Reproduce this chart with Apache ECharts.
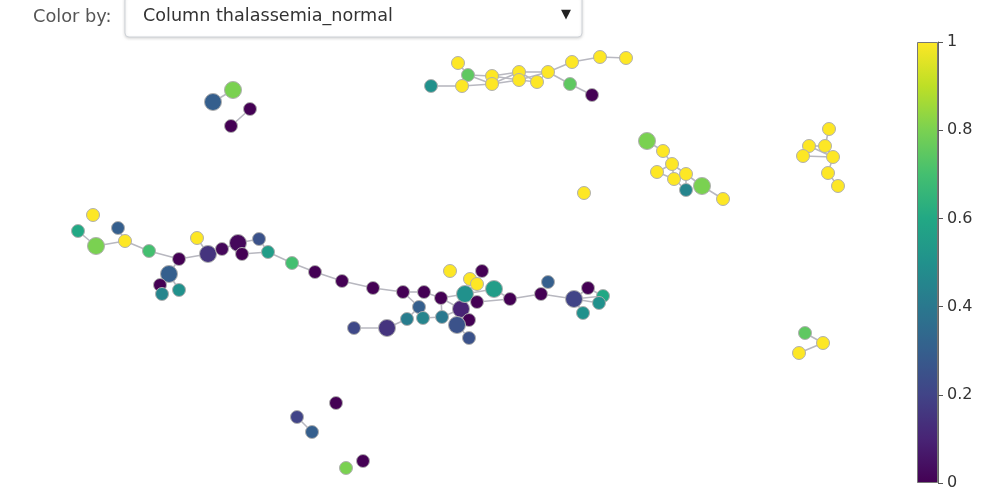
<!DOCTYPE html>
<html>
<head>
<meta charset="utf-8">
<script src="https://cdn.jsdelivr.net/npm/echarts@6/dist/echarts.min.js"></script>
<style>
html,body{margin:0;padding:0;background:#fff;}
#chart{width:1005px;height:504px;}
</style>
</head>
<body>
<div id="chart"></div>
<script>
// Layout coordinates of the network nodes
const nodeX = [458,468,431,462,492,492,519,519,537,548,572,600,626,570,592,
  213,233,250,231,
  647,663,672,657,674,686,702,686,723,584,
  829,825,809,803,833,828,838,
  93,78,96,118,125,149,179,197,208,222,238,242,259,268,292,169,160,179,162,
  315,342,373,403,424,441,419,407,423,442,387,354,461,465,469,457,469,450,470,477,482,494,477,510,541,548,574,588,603,599,583,
  336,297,312,346,363,
  805,823,799];
const nodeY = [63,75,86,86,76,84,72,80,82,72,62,57,58,84,95,
  102,90,109,126,
  141,151,164,172,179,174,186,190,199,193,
  129,146,146,156,157,173,186,
  215,231,246,228,241,251,259,238,254,249,243,254,239,252,263,274,285,290,294,
  272,281,288,292,292,298,307,319,318,317,328,328,309,294,320,325,338,271,279,284,271,289,302,299,294,282,299,288,296,303,313,
  403,417,432,468,461,
  333,343,353];
// thalassemia_normal value for each node
const nodeValue = [1,0.75,0.5,1,1,1,1,1,1,1,1,1,1,0.75,0,
  0.3,0.8,0,0,
  0.8,1,1,1,1,1,0.8,0.45,1,1,
  1,1,1,1,1,1,1,
  1,0.6,0.8,0.3,1,0.7,0,1,0.15,0.02,0.02,0,0.25,0.55,0.7,0.3,0,0.5,0.45,
  0,0,0,0,0,0,0.3,0.42,0.45,0.4,0.15,0.22,0.1,0.5,0,0.25,0.25,1,1,1,0,0.55,0,0,0,0.3,0.2,0,0.6,0.5,0.5,
  0,0.2,0.3,0.8,0,
  0.75,1,1];
// relative node weight (1 = normal, 2 = large)
const nodeWeight = [1,1,1,1,1,1,1,1,1,1,1,1,1,1,1,
  2,2,1,1,
  2,1,1,1,1,1,2,1,1,1,
  1,1,1,1,1,1,1,
  1,1,2,1,1,1,1,1,2,1,2,1,1,1,1,2,1,1,1,
  1,1,1,1,1,1,1,1,1,1,2,1,2,2,1,2,1,1,1,1,1,2,1,1,1,1,2,1,1,1,1,
  1,1,1,1,1,
  1,1,1];
const linkSource = [2,3,0,1,1,3,4,5,4,5,6,7,6,7,8,9,10,11,9,13,
  15,17,
  19,20,21,21,21,22,23,24,23,25,24,
  29,30,31,31,30,32,33,34,
  37,38,39,40,41,42,43,44,45,46,46,47,48,49,42,51,51,52,
  50,55,56,57,58,59,58,61,61,62,65,63,60,60,64,67,67,67,70,69,68,73,68,68,77,76,78,79,81,81,81,83,82,81,60,
  87,
  91,92];
const linkTarget = [3,1,1,4,5,5,6,7,7,6,8,8,9,9,9,10,11,12,13,14,
  16,18,
  20,21,22,24,23,23,24,25,26,27,26,
  30,31,32,33,33,33,34,35,
  38,40,40,41,42,44,44,45,46,47,48,49,49,50,51,52,53,54,
  55,56,57,58,59,60,61,62,63,65,66,64,64,67,67,68,69,70,71,70,74,74,76,77,78,78,79,81,82,83,84,84,83,85,68,
  88,
  92,93];
// colour bar ticks
const colorbarTicks = [0, 0.2, 0.4, 0.6, 0.8, 1];

const viridis = ['#440154','#482475','#414487','#355f8d','#2a788e','#21918c','#22a884','#44bf70','#7ad151','#bddf26','#fde725'];
function hexToRgb(h){return [parseInt(h.slice(1,3),16),parseInt(h.slice(3,5),16),parseInt(h.slice(5,7),16)];}
function viridisColor(v){
  v = Math.max(0, Math.min(1, v));
  const p = v * (viridis.length - 1);
  const i = Math.min(Math.floor(p), viridis.length - 2);
  const t = p - i;
  const a = hexToRgb(viridis[i]), b = hexToRgb(viridis[i+1]);
  const c = a.map((x,k)=>Math.round(x + (b[k]-x)*t));
  return 'rgb(' + c.join(',') + ')';
}

const nodes = nodeX.map((x, i) => ({
  value: [x, nodeY[i]],
  symbolSize: nodeWeight[i] === 2 ? 17 : 13,
  itemStyle: { color: viridisColor(nodeValue[i]) }
}));
const links = linkSource.map((s, i) => ({ source: s, target: linkTarget[i] }));

const chart = echarts.init(document.getElementById('chart'), null, {renderer: 'canvas'});
chart.setOption({
  animation: false,
  backgroundColor: '#fff',
  grid: [
    { left: 0, top: 0, width: 1005, height: 504 },
    { left: 917, top: 42, width: 21, height: 441 }
  ],
  xAxis: [
    { type: 'value', min: 0, max: 1005, show: false, gridIndex: 0 },
    { type: 'category', data: [''], show: false, gridIndex: 1 }
  ],
  yAxis: [
    { type: 'value', min: 0, max: 504, inverse: true, show: false, gridIndex: 0 },
    { type: 'value', gridIndex: 1, min: 0, max: 1, interval: 0.2, position: 'right',
      axisLine: { show: true, lineStyle: { color: '#666', width: 1 } },
      axisTick: { show: true, length: 5, lineStyle: { color: '#555' } },
      splitLine: { show: false },
      axisLabel: { fontSize: 16, color: '#333', fontFamily: 'DejaVu Sans', margin: 9,
        formatter: v => colorbarTicks.indexOf(Math.round(v*10)/10) >= 0 ? String(Math.round(v*10)/10) : '' } }
  ],
  series: [
    {
      type: 'graph',
      coordinateSystem: 'cartesian2d',
      xAxisIndex: 0, yAxisIndex: 0,
      layout: 'none',
      silent: true,
      data: nodes,
      links: links,
      symbol: 'circle',
      itemStyle: { borderColor: '#b0b0b0', borderWidth: 1 },
      lineStyle: { color: '#b8b8c0', width: 1.6, opacity: 1 },
      label: { show: false },
      z: 2
    },
    {
      type: 'bar',
      xAxisIndex: 1, yAxisIndex: 1,
      data: [1],
      barWidth: '100%',
      silent: true,
      itemStyle: {
        borderColor: '#777', borderWidth: 1,
        color: { type: 'linear', x: 0, y: 1, x2: 0, y2: 0,
          colorStops: viridis.map((c, i) => ({ offset: i / (viridis.length - 1), color: c })) }
      }
    }
  ],
  graphic: [
    { type: 'rect', shape: { x: 125, y: -5, width: 457, height: 42, r: 4 },
      style: { fill: '#fff', stroke: '#cfd3d8', lineWidth: 1, shadowBlur: 3, shadowColor: 'rgba(0,0,0,0.15)', shadowOffsetY: 1 }, z: 10 },
    { type: 'text', x: 33, y: 17, style: { text: 'Color by:', fill: '#555', font: '17.8px "DejaVu Sans"', textVerticalAlign: 'middle' }, z: 11 },
    { type: 'text', x: 143, y: 16, style: { text: 'Column thalassemia_normal', fill: '#333', font: '17.6px "DejaVu Sans"', textVerticalAlign: 'middle' }, z: 11 },
    { type: 'text', x: 561, y: 15, style: { text: '▼', fill: '#222', font: '13px "DejaVu Sans"', textVerticalAlign: 'middle' }, z: 11 }
  ]
});
</script>
</body>
</html>
